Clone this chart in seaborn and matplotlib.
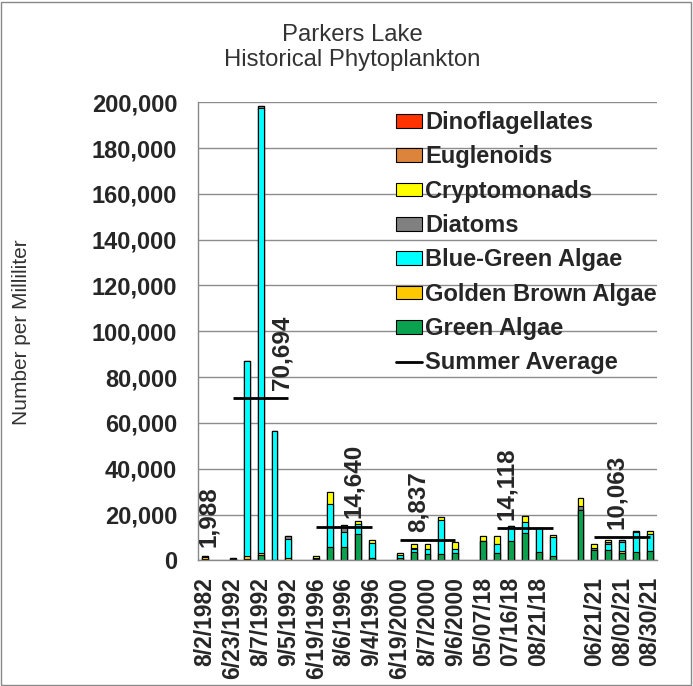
import numpy as np
import pandas as pd
import matplotlib
matplotlib.use("Agg")
import matplotlib.pyplot as plt
from matplotlib.patches import Patch, Rectangle
from matplotlib.lines import Line2D
from matplotlib.ticker import FuncFormatter
import seaborn as sns

N = np.nan

# sample dates, only every other one gets printed on the axis ('' = spacer / hidden)
dates = ["8/2/1982", "", "6/23/1992", "", "8/7/1992", "", "9/5/1992", "",
         "6/19/1996", "", "8/6/1996", "", "9/4/1996", "", "6/19/2000", "",
         "8/7/2000", "", "9/6/2000", "", "05/07/18", "", "07/16/18", "",
         "08/21/18", "", "", "", "06/21/21", "", "08/02/21", "", "08/30/21"]

# counts per mL, NaN = no sample (gap between years)
green_algae = [700, N, 300, 500, 2500, 200, 200, N, 500, 6000, 5800, 11600, 1000, N,
               1200, 3600, 2600, 2900, 3400, N, 8300, 3200, 8600, 11800, 3800, 1700, N,
               21900, 4400, 4400, 3300, 3800, 4000]
golden_brown = [900, N, 100, 1500, 500, 0, 1000, N, 0, 0, 0, 0, 0, N,
                0, 0, 0, 0, 0, N, 0, 0, 0, 0, 0, 0, N,
                0, 0, 0, 600, 0, 0]
blue_green = [0, N, 0, 85100, 194500, 56300, 7900, N, 600, 18700, 6600, 4400, 6550, N,
              1300, 1500, 2200, 14700, 1400, N, 0, 4100, 6200, 4900, 10500, 8500, N,
              0, 0, 2900, 3900, 8400, 7300]
diatoms = [388, N, 400, 0, 1000, 0, 1500, N, 0, 0, 2200, 0, 0, N,
           0, 400, 0, 0, 0, N, 0, 0, 0, 0, 0, 0, N,
           1900, 1100, 700, 900, 700, 0]
cryptomonads = [0, N, 0, 0, 0, 0, 0, N, 700, 5300, 700, 1200, 1450, N,
                500, 1500, 2200, 1400, 3000, N, 2200, 3500, 0, 2800, 0, 1000, N,
                3500, 1400, 1000, 0, 0, 1700]
euglenoids = [0, N, 0, 0, 0, 0, 0, N, 0, 0, 0, 0, 0, N,
              400, 0, 0, 0, 0, N, 0, 0, 0, 0, 0, 0, N,
              0, 0, 0, 0, 0, 0]
dinoflagellates = [0, N, 0, 0, 0, 0, 0, N, 0, 0, 0, 0, 0, N,
                   0, 0, 0, 0, 0, N, 0, 0, 0, 0, 0, 0, N,
                   0, 0, 0, 0, 0, 0]

# summer averages: first / last category of the summer, value
avg_start = [0, 2, 8, 14, 21, 28]
avg_end = [0, 6, 12, 18, 25, 32]
avg_value = [1988, 70694, 14640, 8837, 14118, 10063]
avg_label_x = [0.25, 5.55, 10.65, 15.3, 21.7, 29.6]

# bottom -> top stacking order
series = [("Green Algae", green_algae, "#0aa24f"),
          ("Golden Brown Algae", golden_brown, "#ffc800"),
          ("Blue-Green Algae", blue_green, "#00ffff"),
          ("Diatoms", diatoms, "#808080"),
          ("Cryptomonads", cryptomonads, "#ffff00"),
          ("Euglenoids", euglenoids, "#dc843c"),
          ("Dinoflagellates", dinoflagellates, "#ff3300")]

sns.set_style("white")
plt.rcParams["font.family"] = ["Liberation Sans", "DejaVu Sans"]

fig = plt.figure(figsize=(6.93, 6.86), dpi=100)
ax = fig.add_axes([198 / 693, 1 - 560.3 / 686, 459 / 693, 458 / 686])

pos = list(range(len(dates)))
df = pd.DataFrame({"pos": pos})
cum = np.zeros(len(pos))
for name, vals, col in series:
    cum = cum + np.array(vals, dtype=float)
    df[name] = cum

# draw cumulative totals from the top series down so they look stacked
for name, vals, col in reversed(series):
    sns.barplot(data=df, x="pos", y=name, order=pos, color=col, saturation=1,
                width=0.42, edgecolor="black", linewidth=0.8, errorbar=None, ax=ax)

for s, e, v in zip(avg_start, avg_end, avg_value):
    ax.plot([s, e], [v, v], color="black", lw=2, solid_capstyle="butt", zorder=5)
for xl, v in zip(avg_label_x, avg_value):
    ax.annotate(f"{v:,}", (xl, v), xytext=(0, 6), textcoords="offset points",
                rotation=90, ha="center", va="bottom", fontsize=17.5,
                fontweight="bold", zorder=6)

ax.set_xlim(-0.5, len(dates) - 0.5)
ax.set_ylim(0, 200000)
ax.set_yticks(range(0, 200001, 20000))
ax.yaxis.set_major_formatter(FuncFormatter(lambda v, p: f"{int(v):,}"))
ax.set_xticks(pos)
ax.set_xticklabels(dates, rotation=90, fontweight="bold", fontsize=16.5)
ax.set_xticks(np.arange(-0.5, len(dates)), minor=True)
ax.tick_params(axis="x", which="major", length=0, pad=12)
ax.tick_params(axis="x", which="minor", length=5, color="#888888", width=1)
ax.tick_params(axis="y", length=5, color="#888888", width=1, pad=10, labelsize=17)
for t in ax.get_yticklabels():
    t.set_fontweight("bold")
ax.set_xlabel("")
ax.set_ylabel("")
ax.grid(axis="y", color="#8c8c8c", lw=1)
ax.set_axisbelow(True)
for side in ["top", "right"]:
    ax.spines[side].set_visible(False)
for side in ["left", "bottom"]:
    ax.spines[side].set_color("#888888")
    ax.spines[side].set_linewidth(1)

handles = [Patch(facecolor=col, edgecolor="black", linewidth=0.8, label=name)
           for name, vals, col in reversed(series)]
handles.append(Line2D([], [], color="black", lw=2, label="Summer Average"))
ax.legend(handles=handles, loc="upper left", bbox_to_anchor=(396 / 693, 0.838),
          bbox_transform=fig.transFigure, frameon=False, borderpad=0, borderaxespad=0,
          handlelength=1.12, handleheight=0.52, handletextpad=0.12,
          labelspacing=0.48, prop={"weight": "bold", "size": 17})

fig.text(0.508, 1 - 35 / 686, "Parkers Lake", ha="center", va="center",
         fontsize=17.2, color="#333333")
fig.text(0.508, 1 - 60 / 686, "Historical Phytoplankton", ha="center", va="center",
         fontsize=17.2, color="#333333")
fig.text(22 / 693, 1 - 332 / 686, "Number per Milliliter", rotation=90,
         ha="center", va="center", fontsize=15, color="#333333")

fig.patches.append(Rectangle((0.002, 0.002), 0.995, 0.995, transform=fig.transFigure,
                             fill=False, edgecolor="#888888", lw=1))

fig.savefig("out.png", dpi=100)
